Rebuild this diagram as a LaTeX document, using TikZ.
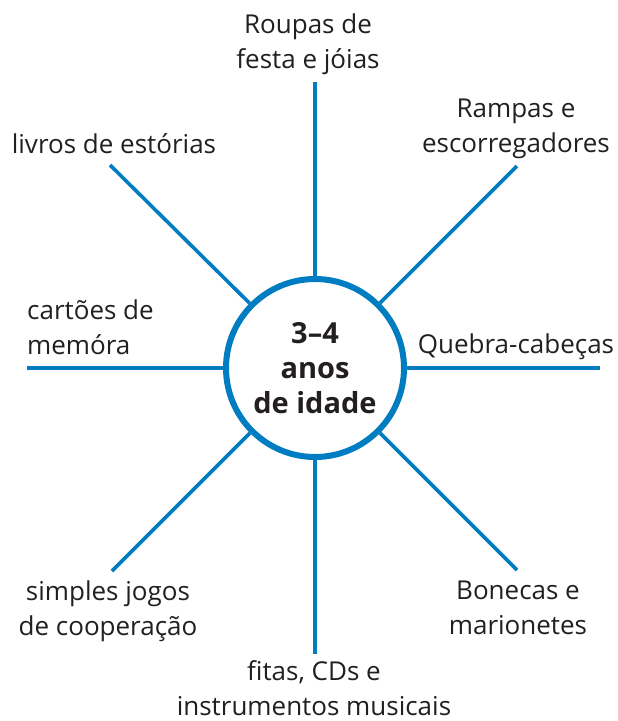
\documentclass[tikz,border=0pt]{standalone}
\usepackage{fontspec}
\setmainfont{Open Sans}
\definecolor{spokeblue}{RGB}{0,125,192}
\definecolor{inkgray}{RGB}{35,31,32}
\begin{document}
\begin{tikzpicture}[x=1pt, y=-1pt,
  spoke/.style={draw=spokeblue, line width=3.6pt},
  hub/.style={circle, draw=spokeblue, line width=6pt, fill=white, minimum size=178pt, inner sep=0pt, align=center, text=inkgray, font=\bfseries\fontsize{29}{35}\selectfont},
  lbl/.style={inner sep=0pt, align=center, text=inkgray, font=\fontsize{26}{35}\selectfont}
]
  \useasboundingbox (0,0) rectangle (618,721);
  % spoke ends
  \coordinate (etop) at (315,82);
  \coordinate (eur) at (517,166);
  \coordinate (er) at (600,368);
  \coordinate (elr) at (517,570);
  \coordinate (eb) at (315,654);
  \coordinate (ell) at (112,571);
  \coordinate (el) at (27,368);
  \coordinate (eul) at (110,165);
  \node[hub] (age) at (315,368) {3--4\\anos\\de idade};
  \draw[spoke] (age) -- (etop);
  \draw[spoke] (age) -- (eur);
  \draw[spoke] (age) -- (er);
  \draw[spoke] (age) -- (elr);
  \draw[spoke] (age) -- (eb);
  \draw[spoke] (age) -- (ell);
  \draw[spoke] (age) -- (el);
  \draw[spoke] (age) -- (eul);
  % labels (base = last line)
  \node[lbl, anchor=base] (roupas) at (308,68) {Roupas de\\festa e jóias};
  \node[lbl, anchor=base] (rampas) at (516,152) {Rampas e\\escorregadores};
  \node[lbl, anchor=base] (livros) at (114,153) {livros de estórias};
  \node[lbl, anchor=base west, align=left] (cartoes) at (27,354) {cartões de\\memóra};
  \node[lbl, anchor=base] (quebra) at (516,353) {Quebra-cabeças};
  \node[lbl, anchor=base] (jogos) at (108,635) {simples jogos\\de cooperação};
  \node[lbl, anchor=base] (bonecas) at (518,634) {Bonecas e\\marionetes};
  \node[lbl, anchor=base] (fitas) at (314,715) {fitas, CDs e\\instrumentos musicais};
\end{tikzpicture}
\end{document}
